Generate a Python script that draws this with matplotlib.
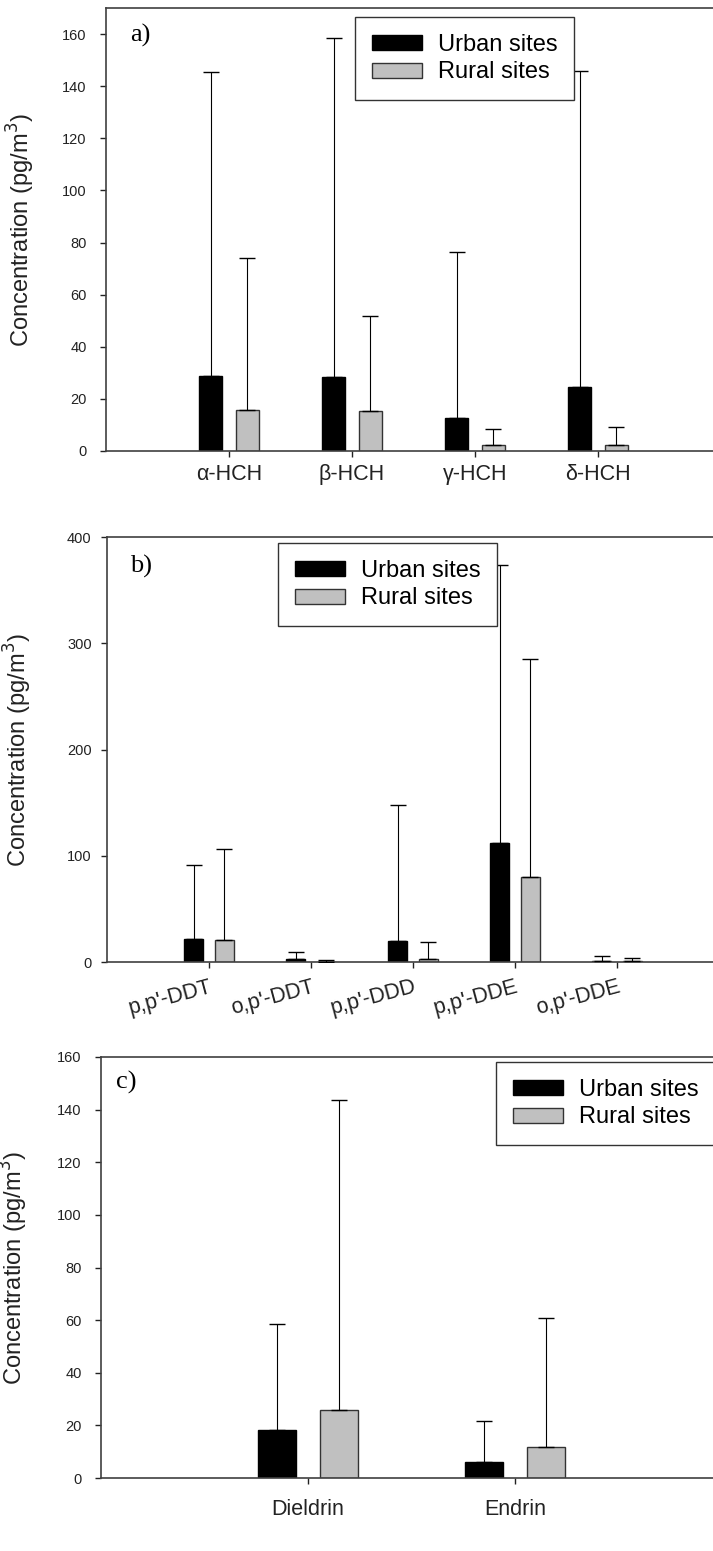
import matplotlib.pyplot as plt
import numpy as np

plt.rcParams['font.family'] = ['Liberation Sans', 'DejaVu Sans']

# panel a: HCH isomers
hch_labels = ['α-HCH', 'β-HCH', 'γ-HCH', 'δ-HCH']
hch_urban = [28.6, 28.5, 12.8, 24.6]
hch_urban_sd = [116.9, 130.1, 63.5, 121.2]
hch_rural = [15.8, 15.4, 2.2, 2.4]
hch_rural_sd = [58.4, 36.3, 6.3, 7.0]

# panel b: DDT and metabolites
ddt_labels = ["p,p'-DDT", "o,p'-DDT", "p,p'-DDD", "p,p'-DDE", "o,p'-DDE"]
ddt_urban = [21.6, 2.8, 19.8, 112.3, 1.0]
ddt_urban_sd = [69.4, 6.6, 128.0, 261.7, 4.6]
ddt_rural = [20.7, 0.4, 3.1, 79.7, 1.0]
ddt_rural_sd = [85.3, 1.1, 16.0, 205.5, 2.5]

# panel c: drins
drin_labels = ['Dieldrin', 'Endrin']
drin_urban = [18.3, 6.1]
drin_urban_sd = [40.3, 15.5]
drin_rural = [25.7, 11.6]
drin_rural_sd = [118.1, 49.2]

W, H = 713, 1551
fig = plt.figure(figsize=(W / 100, H / 100), dpi=100)


def make_axes(left, top, right, bottom):
    return fig.add_axes([left / W, 1 - bottom / H, (right - left) / W, (bottom - top) / H])


def draw_panel(ax, labels, urban, urban_sd, rural, rural_sd, ymax, yticks,
               letter, letter_xy, legend_xy, rot=0, xpad=5, ypad=8, label_x=-0.11):
    x = np.arange(1, len(labels) + 1)
    off, w = 0.15, 0.185
    ax.bar(x - off, urban, w, color='black', edgecolor='black', linewidth=1,
           label='Urban sites', zorder=2)
    ax.bar(x + off, rural, w, color='#c0c0c0', edgecolor='#333333', linewidth=1,
           label='Rural sites', zorder=2)
    ax.errorbar(x - off, urban, yerr=[np.zeros(len(x)), urban_sd], fmt='none',
                ecolor='black', elinewidth=0.8, capsize=5.5, capthick=1, zorder=3)
    ax.errorbar(x + off, rural, yerr=[np.zeros(len(x)), rural_sd], fmt='none',
                ecolor='black', elinewidth=0.8, capsize=5.5, capthick=1, zorder=3)
    ax.set_xlim(0, len(labels) + 1)
    ax.set_ylim(0, ymax)
    ax.set_yticks(yticks)
    ax.set_xticks(x)
    if rot:
        ax.set_xticklabels(labels, rotation=rot, ha='right', va='top',
                           rotation_mode='anchor', fontsize=15.5)
    else:
        ax.set_xticklabels(labels, fontsize=15.5)
    ax.tick_params(axis='x', direction='out', length=4.3, width=1, pad=xpad,
                   colors='#222222')
    ax.tick_params(axis='y', direction='out', length=4, width=1, pad=ypad,
                   labelsize=10.5, colors='#222222')
    for s in ax.spines.values():
        s.set_color('#404040')
        s.set_linewidth(1.2)
    ax.spines['right'].set_visible(False)
    ax.set_ylabel('Concentration (pg/m$^3$)', fontsize=17, color='#222222')
    ax.yaxis.set_label_coords(label_x, 0.5)
    ax.text(letter_xy[0], letter_xy[1], letter, transform=ax.transAxes,
            ha='left', va='top', fontsize=19, family='Liberation Serif')
    ax.legend(loc='upper left', bbox_to_anchor=(legend_xy[0] / W, 1 - legend_xy[1] / H),
              bbox_transform=fig.transFigure, fontsize=17, frameon=True,
              fancybox=False, framealpha=1, edgecolor='#333333', borderaxespad=0,
              borderpad=0.7, labelspacing=0.25, handlelength=2.15,
              handleheight=0.6, handletextpad=0.65)
    ax.get_legend().get_frame().set_linewidth(1)


ax_a = make_axes(106, 8, 106 + 5 * 123, 451)
draw_panel(ax_a, hch_labels, hch_urban, hch_urban_sd, hch_rural, hch_rural_sd,
           170, np.arange(0, 161, 20), 'a)', (0.039, 0.964), (355, 17),
           xpad=5, ypad=10, label_x=-0.112)

ax_b = make_axes(107, 537, 107 + 6 * 102, 962)
draw_panel(ax_b, ddt_labels, ddt_urban, ddt_urban_sd, ddt_rural, ddt_rural_sd,
           400, np.arange(0, 401, 100), 'b)', (0.038, 0.959), (278, 543),
           rot=15, xpad=6, ypad=7, label_x=-0.119)

ax_c = make_axes(101, 1057, 101 + 3 * 207, 1478)
draw_panel(ax_c, drin_labels, drin_urban, drin_urban_sd, drin_rural, drin_rural_sd,
           160, np.arange(0, 161, 20), 'c)', (0.024, 0.966), (496, 1062),
           xpad=11, ypad=10, label_x=-0.114)

fig.savefig('out.png', dpi=100)
